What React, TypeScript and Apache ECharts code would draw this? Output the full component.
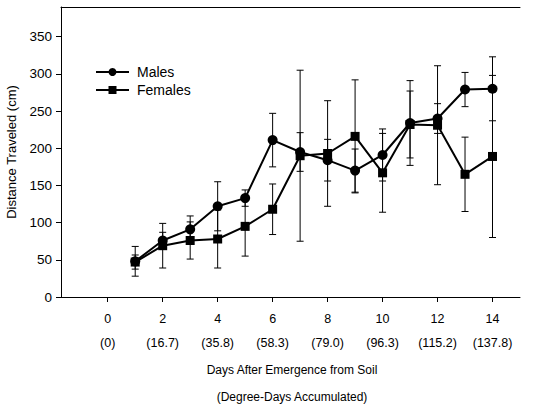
import React, { useEffect, useRef } from "react";
import * as echarts from "echarts";

const days = [1, 2, 3, 4, 5, 6, 7, 8, 9, 10, 11, 12, 13, 14];
const malesMean = [48, 76, 91, 122, 133, 211, 195, 184, 170, 191, 234, 240, 279, 280];
const malesErr = [20, 11, 18, 33, 11, 36, 26, 28, 29, 35, 57, 20, 23, 43];
const femalesMean = [47, 69, 76, 78, 95, 118, 190, 193, 216, 167, 232, 231, 165, 189];
const femalesErr = [9.5, 30, 25, 39, 40, 34, 115, 71, 76, 53, 45, 80, 50, 109];
const xTickDays = [0, 2, 4, 6, 8, 10, 12, 14];
const xTickDegreeDays = ["0", "16.7", "35.8", "58.3", "79.0", "96.3", "115.2", "137.8"];
const yTicks = [0, 50, 100, 150, 200, 250, 300, 350];

const FONT = "Liberation Sans, Arial, sans-serif";

function errData(mean: number[], err: number[]) {
  return days.map((d, i) => [d, mean[i] - err[i], mean[i] + err[i]]);
}

function renderErr(params: any, api: any) {
  const x = api.value(0);
  const lo = api.coord([x, api.value(1)]);
  const hi = api.coord([x, api.value(2)]);
  const hw = 3.5;
  const style = { stroke: "#000", lineWidth: 1 };
  return {
    type: "group",
    children: [
      { type: "line", shape: { x1: lo[0], y1: lo[1], x2: hi[0], y2: hi[1] }, style },
      { type: "line", shape: { x1: lo[0] - hw, y1: lo[1], x2: lo[0] + hw, y2: lo[1] }, style },
      { type: "line", shape: { x1: hi[0] - hw, y1: hi[1], x2: hi[0] + hw, y2: hi[1] }, style },
    ],
  };
}

export default function App() {
  const ref = useRef<HTMLDivElement>(null);
  useEffect(() => {
    if (!ref.current) return;
    const chart = echarts.init(ref.current, null, { renderer: "svg" });
    const xMin = -1.7;
    const xMax = 15;
    chart.setOption({
      animation: false,
      textStyle: { fontFamily: FONT },
      grid: { left: 61, right: 22, top: 7, bottom: 114, containLabel: false, outerBoundsMode: "none" },
      legend: {
        orient: "vertical",
        left: 95,
        top: 65,
        padding: 0,
        itemWidth: 33,
        itemHeight: 10,
        itemGap: 4,
        data: ["Males", "Females"],
        textStyle: { fontFamily: FONT, fontSize: 14, color: "#000", padding: [0, 0, 0, 3] },
      },
      xAxis: [
        {
          type: "value",
          min: xMin,
          max: xMax,
          splitLine: { show: false },
          axisLine: { onZero: false, lineStyle: { color: "#000", width: 1 } },
          axisTick: { customValues: xTickDays, length: 5, lineStyle: { color: "#000" } },
          axisLabel: {
            customValues: xTickDays,
            color: "#000",
            fontSize: 12.5,
            fontFamily: FONT,
            lineHeight: 24,
            margin: 10,
            formatter: (v: number) => {
              const i = xTickDays.indexOf(Math.round(v));
              return `${Math.round(v)}\n(${xTickDegreeDays[i]})`;
            },
          },
        },
        {
          type: "value",
          min: xMin,
          max: xMax,
          position: "top",
          splitLine: { show: false },
          axisLine: { show: true, onZero: false, lineStyle: { color: "#000", width: 1 } },
          axisTick: { show: false },
          axisLabel: { show: false },
        },
      ],
      yAxis: {
        type: "value",
        min: 0,
        max: 390,
        name: "Distance Traveled (cm)",
        nameLocation: "middle",
        nameGap: 43,
        nameTextStyle: { color: "#000", fontSize: 13, fontFamily: FONT },
        splitLine: { show: false },
        axisLine: { show: true, onZero: false, lineStyle: { color: "#000", width: 1 } },
        axisTick: { show: true, customValues: yTicks, length: 5, lineStyle: { color: "#000" } },
        axisLabel: { customValues: yTicks, color: "#000", fontSize: 13.5, fontFamily: FONT, margin: 9 },
      },
      graphic: [
        {
          type: "text",
          x: 292,
          y: 370,
          style: {
            text: "Days After Emergence from Soil",
            fill: "#000",
            font: `12px ${FONT}`,
            align: "center",
            verticalAlign: "middle",
          },
        },
        {
          type: "text",
          x: 292,
          y: 397,
          style: {
            text: "(Degree-Days Accumulated)",
            fill: "#000",
            font: `12px ${FONT}`,
            align: "center",
            verticalAlign: "middle",
          },
        },
      ],
      series: [
        {
          name: "MalesErr",
          type: "custom",
          renderItem: renderErr,
          data: errData(malesMean, malesErr),
          z: 1,
        },
        {
          name: "FemalesErr",
          type: "custom",
          renderItem: renderErr,
          data: errData(femalesMean, femalesErr),
          z: 1,
        },
        {
          name: "Males",
          type: "line",
          data: days.map((d, i) => [d, malesMean[i]]),
          symbol: "circle",
          symbolSize: 10,
          lineStyle: { color: "#000", width: 2 },
          itemStyle: { color: "#000" },
          z: 3,
        },
        {
          name: "Females",
          type: "line",
          data: days.map((d, i) => [d, femalesMean[i]]),
          symbol: "rect",
          symbolSize: 9,
          lineStyle: { color: "#000", width: 2 },
          itemStyle: { color: "#000" },
          z: 3,
        },
      ],
    });
    return () => chart.dispose();
  }, []);
  return <div ref={ref} style={{ width: 542, height: 411, position: "absolute", left: 0, top: 0 }} />;
}
